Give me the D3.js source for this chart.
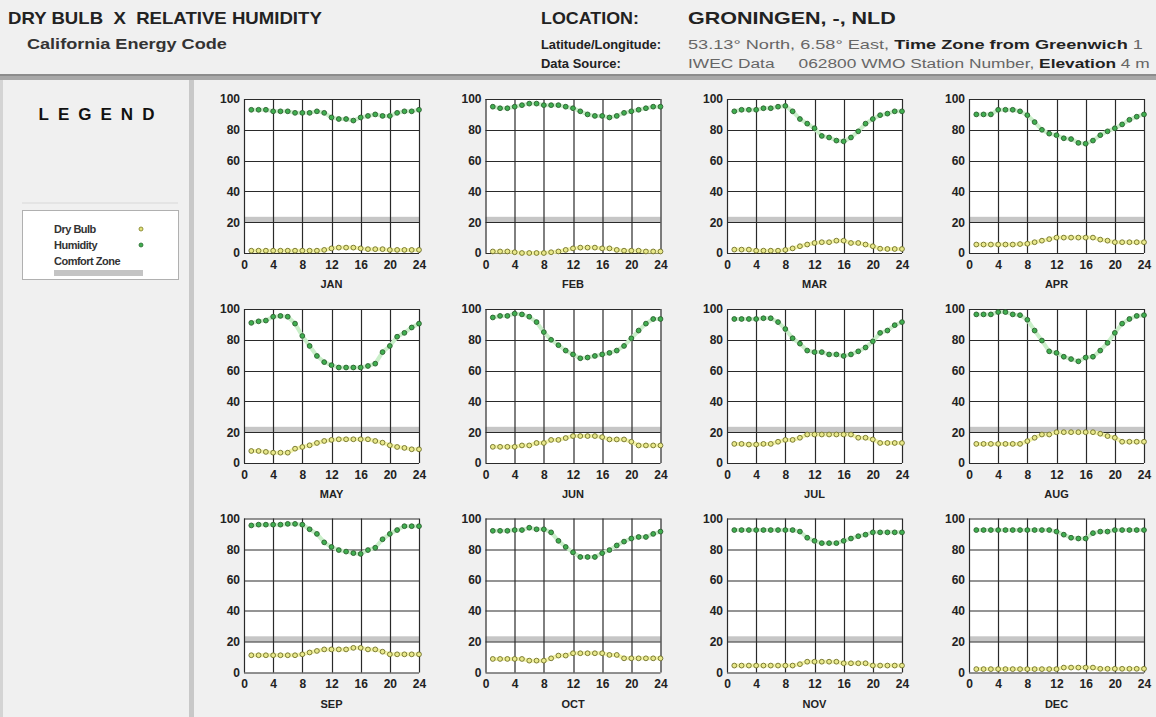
<!DOCTYPE html>
<html>
<head>
<meta charset="utf-8">
<script src="https://cdn.jsdelivr.net/npm/d3@7"></script>
<style>
  body { margin: 0; background: #f0f0f0; }
  svg { display: block; font-family: "Liberation Sans", Arial, sans-serif; }
</style>
</head>
<body>
<div id="container"></div>
<script>
//Chart data, hours 1..24 per month
var months = ["JAN", "FEB", "MAR", "APR", "MAY", "JUN", "JUL", "AUG", "SEP", "OCT", "NOV", "DEC"];
var hours = d3.range(1, 25);
var xTicks = [0, 4, 8, 12, 16, 20, 24];
var yTicks = [0, 20, 40, 60, 80, 100];
var comfortZone = [20, 23.5];

var humidity = [
  [93, 93, 93, 92, 92, 92, 91, 91, 91, 92, 91, 88, 87, 87, 86, 88, 89, 90, 89, 89, 91, 92, 92, 93],
  [95, 94, 94, 95, 96, 97, 97, 96, 96, 96, 95, 94, 92, 90, 89, 89, 88, 89, 91, 92, 93, 94, 95, 95],
  [92, 93, 93, 93, 94, 94, 95, 95.5, 92, 87, 84, 81, 76, 75, 73, 72.5, 75, 79, 84, 87, 89.5, 90.5, 92, 92],
  [90, 90, 90, 93, 93, 93, 92, 89.5, 85, 80, 77.5, 76.5, 74.5, 74, 71.5, 71, 73, 76.5, 79, 81, 83.5, 86.5, 88.5, 90],
  [91, 92, 92.5, 95, 95.5, 95, 90.5, 82.5, 76, 69.5, 65.5, 63.5, 62, 62, 62, 62, 63, 64.5, 72, 76, 82, 84.5, 88, 90.5],
  [94.5, 95.5, 95.5, 97, 96.5, 95, 91.5, 85, 80, 76.5, 73, 70.5, 68, 68.5, 69.5, 70.5, 71.5, 73, 76, 81, 86, 90.5, 93.5, 93.5],
  [93.5, 93.5, 93.5, 93.5, 94, 94, 91.5, 87, 81, 77.5, 73, 72, 72, 70.5, 70.5, 69.5, 70.5, 72.5, 75, 79, 84.5, 86, 89.5, 91.5],
  [96.5, 96.5, 96.5, 98, 98, 96.5, 96, 93, 86, 79.5, 72.5, 71.5, 69, 67.5, 66, 68.5, 69, 73, 78, 84.5, 90.5, 93.5, 95.5, 96],
  [95.5, 96, 96, 96, 96, 96.5, 96.5, 96, 93, 90, 84.5, 81.5, 79.5, 78.5, 77.5, 77, 79.5, 81, 86.5, 90, 92.5, 95, 95, 95],
  [92, 92, 92, 92.5, 92.5, 94, 93, 93, 91, 85.5, 81.5, 78, 75, 75, 75, 77.5, 79.5, 82.5, 85, 87, 88, 88, 90, 91.5],
  [92.5, 92.5, 92.5, 92.5, 92.5, 92.5, 92.5, 92.5, 92.5, 91.5, 87.5, 85.5, 84, 84, 84, 85.5, 87, 88.5, 89.5, 91, 91, 91, 91, 91],
  [92.5, 92.5, 92.5, 92.5, 92.5, 92.5, 92.5, 92.5, 92.5, 92.5, 92.5, 91.5, 89.5, 87.5, 87, 87, 90.5, 91.5, 91.5, 92.5, 92.5, 92.5, 92.5, 92.5]
];

var dryBulb = [
  [1.5, 1.5, 1.5, 1.5, 1.5, 1.5, 1.5, 1.5, 1.5, 1.5, 2, 3, 3.5, 3.5, 3.5, 3, 2.5, 2.5, 2.5, 2, 2, 2, 2, 2],
  [1, 1, 1, 0.5, 0, 0, 0, 0, 0.5, 1, 2, 3, 3.5, 3.5, 3.5, 3, 3, 2, 1.5, 1.5, 1.5, 1, 1, 1],
  [2.2, 2.2, 2.2, 1.5, 1.5, 1.5, 1.5, 2, 3, 4.4, 5.5, 6.5, 7, 7, 8, 8, 6.5, 6.5, 5.5, 4.4, 2.8, 2.6, 2.6, 2.6],
  [5.5, 5.5, 5.5, 5.5, 5.5, 5.5, 5.8, 6, 7, 8, 9, 10, 10, 10, 10, 10, 10, 8.7, 8, 7, 7, 7, 7, 7],
  [7.8, 7.8, 7.2, 6.7, 6.7, 6.7, 9.3, 10.4, 11.5, 13, 14.3, 15, 15.4, 15.4, 15.4, 15.4, 15.4, 14.3, 13.2, 11.5, 10.4, 9.8, 8.9, 8.9],
  [10.5, 10.5, 10.5, 10.5, 11.4, 11.4, 13, 13, 15, 15, 16.2, 17.5, 17.5, 17.5, 17.5, 16.8, 15.3, 15.3, 15.3, 13.8, 11.4, 11.4, 11.4, 11.4],
  [12.4, 12.4, 12, 12, 12.4, 12.4, 13.8, 15, 15, 16.4, 18.5, 18.5, 18.5, 18.5, 18.5, 18.5, 18.5, 16.4, 16.4, 15.3, 13, 13, 13, 13],
  [12.4, 12.4, 12.4, 12.4, 12.4, 12.4, 12.4, 14.2, 16.4, 18.5, 18.5, 20, 20, 20, 20, 20, 20, 19, 17.5, 16.4, 13.8, 13.8, 13.8, 13.8],
  [11.2, 11.2, 11.2, 11.2, 11.2, 11.2, 11.2, 11.8, 13, 14, 15, 15, 15, 15, 16, 16, 15, 15, 13.5, 11.8, 11.8, 11.8, 11.8, 11.8],
  [8.8, 8.8, 8.8, 8.8, 8.8, 7.7, 7.7, 7.7, 9.2, 11, 11, 12.5, 12.5, 12.5, 12.5, 12.5, 11.4, 11.4, 9.2, 9.2, 9.2, 9.2, 9.2, 9.2],
  [4.5, 4.5, 4.5, 4.5, 4.5, 4.5, 4.5, 4.5, 4.5, 5.4, 7, 7, 7, 7, 7, 6, 6, 6, 6, 4.5, 4.5, 4.5, 4.5, 4.5],
  [2.2, 2.2, 2.2, 2.2, 2.2, 2.2, 2.2, 2.2, 2.2, 2.2, 2.2, 2.2, 3.2, 3.2, 3.2, 3.2, 3.2, 2.4, 2.4, 2.4, 2.4, 2.4, 2.4, 2.4]
];

var W = 1156, H = 717;
var svg = d3.select("#container").append("svg")
  .attr("width", W)
  .attr("height", H);

svg.append("rect").attr("width", W).attr("height", H).attr("fill", "#f0f0f0");

//Header text comes out wide in the reference, so stretch each line to its width
function headerText(x, y, size, width) {
  var g = svg.append("g");
  var t = g.append("text").attr("x", 0).attr("y", 0).attr("font-size", size)
    .attr("xml:space", "preserve").attr("fill", "#222");
  return { g: g, t: t, fit: function () {
    var w = t.node().getComputedTextLength();
    g.attr("transform", "translate(" + x + "," + y + ") scale(" + (width / w) + ",1)");
  } };
}

//Header
svg.append("rect").attr("x", 0).attr("y", 74).attr("width", W).attr("height", 6).attr("fill", "#a8a8a8");
svg.append("rect").attr("x", 0).attr("y", 74).attr("width", W).attr("height", 2).attr("fill", "#8c8c8c");
svg.append("rect").attr("x", 189).attr("y", 80).attr("width", 5).attr("height", H - 80).attr("fill", "#c8c8c8");
svg.append("rect").attr("x", 0).attr("y", 80).attr("width", 3).attr("height", H - 80).attr("fill", "#d4d4d4");

var h1 = headerText(8, 24, 16, 314);
h1.t.attr("font-weight", "bold").text("DRY BULB  X  RELATIVE HUMIDITY");
h1.fit();
var h2 = headerText(27, 49, 14.5, 200);
h2.t.attr("font-weight", "bold").attr("fill", "#333").text("California Energy Code");
h2.fit();

var h3 = headerText(541, 24, 16, 98);
h3.t.attr("font-weight", "bold").text("LOCATION:");
h3.fit();
var h4 = headerText(688, 24, 16, 208);
h4.t.attr("font-weight", "bold").text("GRONINGEN, -, NLD");
h4.fit();

var h5 = headerText(541, 49, 12.5, 120);
h5.t.attr("font-weight", "bold").text("Latitude/Longitude:");
h5.fit();
var h6 = headerText(688, 49, 12.5, 455);
h6.t.append("tspan").attr("fill", "#666").text("53.13° North, 6.58° East, ");
h6.t.append("tspan").attr("font-weight", "bold").text("Time Zone from Greenwich");
h6.t.append("tspan").attr("fill", "#666").text(" 1");
h6.fit();

var h7 = headerText(541, 68, 12.5, 80);
h7.t.attr("font-weight", "bold").text("Data Source:");
h7.fit();
var h8 = headerText(688, 68, 12.5, 462);
h8.t.append("tspan").attr("fill", "#666").text("IWEC Data     062800 WMO Station Number, ");
h8.t.append("tspan").attr("font-weight", "bold").text("Elevation");
h8.t.append("tspan").attr("fill", "#666").text(" 4 m");
h8.fit();

//Legend
svg.append("text").attr("x", 101).attr("y", 120)
  .attr("text-anchor", "middle")
  .attr("font-size", 17).attr("font-weight", "bold").attr("fill", "#111")
  .attr("letter-spacing", 9)
  .text("LEGEND");
svg.append("line").attr("x1", 22).attr("x2", 178).attr("y1", 203).attr("y2", 203)
  .attr("stroke", "#d8d8d8");
svg.append("rect").attr("x", 22.5).attr("y", 210.5).attr("width", 156).attr("height", 69)
  .attr("fill", "#fff").attr("stroke", "#b0b0b0");

var legendItems = [
  { label: "Dry Bulb", fill: "#e2e27a", stroke: "#7a7a20" },
  { label: "Humidity", fill: "#3fae4f", stroke: "#2a6a30" }
];
legendItems.forEach(function (d, i) {
  svg.append("text").attr("x", 54).attr("y", 233 + i * 16)
    .attr("font-size", 11).attr("font-weight", "bold").attr("fill", "#333")
    .attr("letter-spacing", -0.5)
    .text(d.label);
  svg.append("circle").attr("cx", 141).attr("cy", 229 + i * 16).attr("r", 2)
    .attr("fill", d.fill).attr("stroke", d.stroke).attr("stroke-width", 0.8);
});
svg.append("text").attr("x", 54).attr("y", 265)
  .attr("font-size", 11).attr("font-weight", "bold").attr("fill", "#333")
  .attr("letter-spacing", -0.5)
  .text("Comfort Zone");
svg.append("rect").attr("x", 54).attr("y", 270).attr("width", 89).attr("height", 6).attr("fill", "#c4c4c4");

//Panels
var colX = [244, 485.5, 727, 969];
var rowY = [99, 309, 518.5];
var pw = 175, ph = 154;

var x = d3.scaleLinear().domain([0, 24]).range([0, pw]);
var y = d3.scaleLinear().domain([0, 100]).range([ph, 0]);

var line = d3.line()
  .x(function (d, i) { return x(hours[i]); })
  .y(function (d) { return y(d); });

months.forEach(function (m, k) {
  var g = svg.append("g")
    .attr("transform", "translate(" + colX[k % 4] + "," + rowY[Math.floor(k / 4)] + ")");

  g.append("rect").attr("width", pw).attr("height", ph).attr("fill", "#fff");

  //comfort zone band
  g.append("rect")
    .attr("x", 0).attr("width", pw)
    .attr("y", y(comfortZone[1]))
    .attr("height", y(comfortZone[0]) - y(comfortZone[1]))
    .attr("fill", "#c6c6c6");

  //grid
  g.append("g").selectAll("line").data(xTicks).join("line")
    .attr("x1", function (d) { return Math.round(x(d)) + 0.5; })
    .attr("x2", function (d) { return Math.round(x(d)) + 0.5; })
    .attr("y1", 0).attr("y2", ph)
    .attr("stroke", "#2a2a2a").attr("stroke-width", 1.2);
  g.append("g").selectAll("line").data(yTicks).join("line")
    .attr("y1", function (d) { return Math.round(y(d)) + 0.5; })
    .attr("y2", function (d) { return Math.round(y(d)) + 0.5; })
    .attr("x1", 0).attr("x2", pw)
    .attr("stroke", "#2a2a2a").attr("stroke-width", 1.2);

  //axes
  var ax = g.append("g")
    .attr("transform", "translate(0," + ph + ")")
    .call(d3.axisBottom(x).tickValues(xTicks).tickSize(0).tickPadding(7));
  var ay = g.append("g")
    .call(d3.axisLeft(y).tickValues(yTicks).tickSize(0).tickPadding(4));
  [ax, ay].forEach(function (a) {
    a.select(".domain").remove();
    a.selectAll("text")
      .attr("font-family", "'Liberation Sans', Arial, sans-serif")
      .attr("font-size", 12).attr("font-weight", "bold").attr("fill", "#222");
  });

  g.append("text")
    .attr("x", pw / 2).attr("y", ph + 35)
    .attr("text-anchor", "middle")
    .attr("font-size", 11).attr("font-weight", "bold").attr("fill", "#222")
    .text(m);

  //faint trace lines under the markers
  g.append("path").datum(humidity[k])
    .attr("fill", "none").attr("stroke", "#c9efc9").attr("stroke-width", 4)
    .attr("d", line);
  g.append("path").datum(dryBulb[k])
    .attr("fill", "none").attr("stroke", "#f4f4a8").attr("stroke-width", 4)
    .attr("d", line);

  g.append("g").selectAll("circle").data(humidity[k]).join("circle")
    .attr("cx", function (d, i) { return x(hours[i]); })
    .attr("cy", function (d) { return y(d); })
    .attr("r", 2.4)
    .attr("fill", "#3fae4f").attr("stroke", "#2b5f2f").attr("stroke-width", 0.9);
  g.append("g").selectAll("circle").data(dryBulb[k]).join("circle")
    .attr("cx", function (d, i) { return x(hours[i]); })
    .attr("cy", function (d) { return y(d); })
    .attr("r", 2.4)
    .attr("fill", "#e8e88a").attr("stroke", "#6f6f2a").attr("stroke-width", 0.9);
});
</script>
</body>
</html>
